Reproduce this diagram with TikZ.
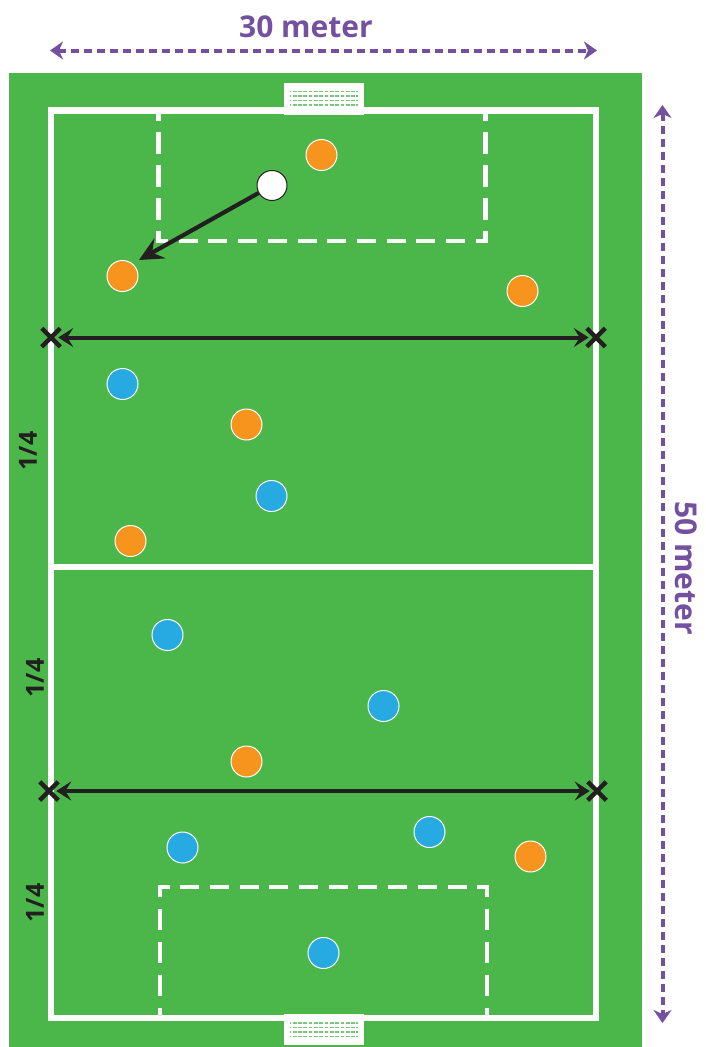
\documentclass[tikz,border=0pt]{standalone}
\usepackage{fontspec}
\setmainfont{Open Sans}
\usetikzlibrary{arrows.meta,shapes.misc}
\definecolor{pitch}{RGB}{75,183,74}
\definecolor{org}{RGB}{247,148,30}
\definecolor{blu}{RGB}{39,170,225}
\definecolor{purp}{RGB}{115,80,160}
\definecolor{blk}{RGB}{35,31,32}
\tikzset{
 x=1pt,y=-1pt,
 fieldline/.style={draw=white,line width=6.2pt},
 penv/.style={draw=white,line width=4.3pt,dash pattern=on 21.5pt off 11.5pt},
 penh/.style={draw=white,line width=4.3pt,dash pattern=on 19pt off 10.7pt},
 player/.style={circle,draw=white,line width=1pt,minimum size=31pt,inner sep=0pt},
 orange/.style={player,fill=org},
 blue/.style={player,fill=blu},
 ball/.style={circle,draw=blk,line width=1pt,fill=white,minimum size=30pt,inner sep=0pt},
 xmark/.style={cross out,draw=blk,line width=4.5pt,minimum size=14pt,inner sep=0pt},
 measure/.style={draw=purp,line width=4pt,dash pattern=on 8pt off 5pt,{Stealth[length=13pt,width=18pt,inset=4pt]}-{Stealth[length=13pt,width=18pt,inset=4pt]}},
 span/.style={draw=blk,line width=4pt,shorten <=-2pt,shorten >=-2pt,{Stealth[length=15pt,width=19pt,inset=6pt]}-{Stealth[length=15pt,width=19pt,inset=6pt]}},
 pass/.style={draw=blk,line width=4.2pt,-{Stealth[length=24pt,width=23pt,inset=9pt]}},
 big/.style={font=\fontsize{30}{32}\selectfont\bfseries,text=purp,inner sep=0pt},
 quarter/.style={font=\fontsize{25}{27}\selectfont\bfseries,text=blk,inner sep=0pt,rotate=90},
 goalbox/.style={fill=white,draw=none},
 netline/.style={draw=pitch!75,line width=1.3pt},
}
\begin{document}
\begin{tikzpicture}
\useasboundingbox (0,0) rectangle (705,1047);
\fill[pitch] (9,73) rectangle (642,1047);
% field
\draw[fieldline] (51,110.5) rectangle (596,1018);
\draw[fieldline] (51,567) -- (596,567);
% penalty areas
\draw[penv,dash phase=9.5pt] (158.5,243) -- (158.5,110);
\draw[penv,dash phase=9.5pt] (485.5,243) -- (485.5,110);
\draw[penh,dash phase=7.5pt] (156.5,241.3) -- (487.5,241.3);
\draw[penv,dash phase=10pt] (160,885.5) -- (160,1018);
\draw[penv,dash phase=10pt] (487,885.5) -- (487,1018);
\draw[penh,dash phase=7.5pt] (158,887.3) -- (489,887.3);
% goals
\fill[goalbox] (284,83.3) rectangle (363.7,114.5);
\fill[goalbox] (284,1013.5) rectangle (363.7,1044.7);
\foreach \y in {91.5,96,100.5,105}{\draw[netline] (290,\y) -- (358,\y);}
\foreach \y in {1023,1027.5,1032,1036.5}{\draw[netline] (290,\y) -- (358,\y);}
\foreach \x in {292,297.3,...,358}{
 \draw[white,line width=1.6pt] (\x,89) -- (\x,108.5);
 \draw[white,line width=1.6pt] (\x,1020.5) -- (\x,1039.5);
}
% marks
\node[xmark] (xtl) at (51,337.5) {};
\node[xmark] (xtr) at (596,337.5) {};
\node[xmark] (xbl) at (49,791) {};
\node[xmark] (xbr) at (597,791) {};
\draw[span] (xtl) -- (xtr);
\draw[span] (xbl) -- (xbr);
% players
\node[orange] (o1) at (321.5,155) {};
\node[orange] (o2) at (122.5,276) {};
\node[orange] (o3) at (522.5,291) {};
\node[orange] (o4) at (246.5,424.5) {};
\node[orange] (o5) at (130.5,541) {};
\node[orange] (o6) at (246.5,761.5) {};
\node[orange] (o7) at (530.5,856.5) {};
\node[blue] (b1) at (122.5,384) {};
\node[blue] (b2) at (271.5,496) {};
\node[blue] (b3) at (167.5,635) {};
\node[blue] (b4) at (383.5,706) {};
\node[blue] (b5) at (182.5,847.5) {};
\node[blue] (b6) at (429.5,832) {};
\node[blue] (b7) at (323.5,953) {};
\node[ball] (w) at (272,185.5) {};
\coordinate (passtip) at (139,260);
\draw[pass] (w) -- (passtip);
% measures
\coordinate (ml) at (50,50.5);
\coordinate (mr) at (597,50.5);
\coordinate (mt) at (662.5,105);
\coordinate (mb) at (662.5,1023);
\draw[measure] (ml) -- (mr);
\draw[measure] (mt) -- (mb);
\node[big] (t30) at (306,27) {30 meter};
\node[big,rotate=-90] (t50) at (686,568) {50 meter};
\node[quarter] (q1) at (28,451) {1/4};
\node[quarter] (q2) at (35,678) {1/4};
\node[quarter] (q3) at (35,903) {1/4};
\end{tikzpicture}
\end{document}
